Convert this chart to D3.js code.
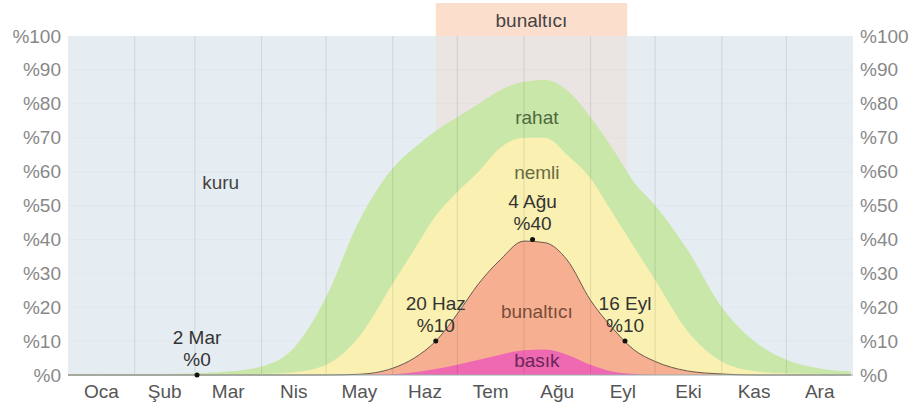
<!DOCTYPE html>
<html>
<head>
<meta charset="utf-8">
<script src="https://cdn.jsdelivr.net/npm/d3@7"></script>
<style>
    body { margin: 0; background: #fff; font-family: "Liberation Sans", Arial, sans-serif; }
    #chart { width: 913px; height: 410px; }
</style>
</head>
<body>
<div id="chart"></div>
<script>
// day of year (0 = 1 Oca) for each sample
const days = [0, 15, 31, 45, 59, 74, 90, 105, 120, 135, 151, 161, 171, 181, 191, 201, 212, 222, 232, 243, 253, 263, 273, 288, 304, 319, 334, 349, 364];

// cumulative tops of each band, in percent
const rahatTop =     [0.3, 0.3, 0.3, 0.3, 0.5, 1, 2.5, 8, 23, 45, 61, 67, 72, 76, 80, 84, 86.5, 87, 84, 76, 67, 57, 50, 37, 20, 10, 4.5, 2, 1];
const nemliTop =     [0.3, 0.3, 0.3, 0.3, 0.3, 0.3, 0.3, 0.8, 3, 11, 27, 37, 47, 54, 60, 67, 70, 70, 65, 58, 48, 38, 28, 13, 4, 1.2, 0.5, 0.3, 0.3];
const bunalticiTop = [0, 0, 0, 0, 0, 0, 0, 0, 0, 0.2, 2, 5, 10, 18, 27, 34, 39.5, 39, 34, 22, 14, 7.5, 4, 1.2, 0.3, 0, 0, 0, 0];
const basikTop =     [0, 0, 0, 0, 0, 0, 0, 0, 0, 0, 0.2, 0.8, 1.8, 3, 4.5, 6, 7.3, 7.5, 6, 3, 1, 0.3, 0, 0, 0, 0, 0, 0, 0];

const monthNames = ["Oca", "Şub", "Mar", "Nis", "May", "Haz", "Tem", "Ağu", "Eyl", "Eki", "Kas", "Ara"];
const monthStarts = [0, 31, 59, 90, 120, 151, 181, 212, 243, 273, 304, 334, 365];
const yTicks = [0, 10, 20, 30, 40, 50, 60, 70, 80, 90, 100];

// muggy period band on top
const muggyStart = 171;
const muggyEnd = 260;

// marked points on the bunaltici line
const markDays = [60, 171, 216, 259];
const markValues = [0, 10, 40, 10];
const markDates = ["2 Mar", "20 Haz", "4 Ağu", "16 Eyl"];

// band names and where they sit
const bandNames = ["kuru", "rahat", "nemli", "bunaltıcı", "basık"];
const bandLabelDays = [71, 218, 218, 218, 218];
const bandLabelValues = [57, 76, 60, 19, 4.5];

class HumidityChart {
    constructor(parentElement) {
        this.parentElement = parentElement;
        this.initVis();
    }

    initVis() {
        let vis = this;
        vis.margin = {top: 36, right: 60, bottom: 35, left: 68};
        vis.width = 913 - vis.margin.left - vis.margin.right;
        vis.height = 410 - vis.margin.top - vis.margin.bottom;
        vis.fontSize = 19;

        vis.root = d3.select("#" + vis.parentElement).append("svg")
            .attr("width", 913)
            .attr("height", 410);
        vis.svg = vis.root.append("g")
            .attr("transform", `translate(${vis.margin.left}, ${vis.margin.top})`);

        vis.x = d3.scaleLinear().domain([0, 365]).range([0, vis.width]);
        vis.y = d3.scaleLinear().domain([0, 100]).range([vis.height, 0]);

        vis.updateVis();
    }

    updateVis() {
        let vis = this;
        let x = vis.x, y = vis.y;

        // kuru background
        vis.svg.append("rect")
            .attr("width", vis.width)
            .attr("height", vis.height)
            .attr("fill", "#e6edf2");

        // muggy season band (above plot + faint tint inside)
        vis.root.append("rect")
            .attr("x", vis.margin.left + x(muggyStart))
            .attr("y", 3)
            .attr("width", x(muggyEnd) - x(muggyStart))
            .attr("height", vis.margin.top - 3)
            .attr("fill", "#fcdecd");
        vis.root.append("text")
            .attr("x", vis.margin.left + x((muggyStart + muggyEnd) / 2))
            .attr("y", 27)
            .attr("text-anchor", "middle")
            .attr("font-size", vis.fontSize)
            .attr("fill", "#444")
            .text("bunaltıcı");
        vis.svg.append("rect")
            .attr("x", x(muggyStart))
            .attr("width", x(muggyEnd) - x(muggyStart))
            .attr("height", vis.height)
            .attr("fill", "#f6d2c0")
            .attr("opacity", 0.3);

        // faint horizontal grid
        vis.svg.selectAll(".hgrid")
            .data(yTicks.slice(1, -1))
            .enter()
            .append("line")
            .attr("x1", 0).attr("x2", vis.width)
            .attr("y1", d => y(d)).attr("y2", d => y(d))
            .attr("stroke", "#000")
            .attr("stroke-opacity", 0.025);

        let area = vals => d3.area()
            .x((d, i) => x(days[i]))
            .y0(y(0))
            .y1((d, i) => y(vals[i]))
            .curve(d3.curveMonotoneX)(days);

        let bands = [
            {vals: rahatTop, color: "#c8e7a8"},
            {vals: nemliTop, color: "#f9f0b2"},
            {vals: bunalticiTop, color: "#f6b091"},
            {vals: basikTop, color: "#ee69b1"}
        ];
        vis.svg.selectAll(".band")
            .data(bands)
            .enter()
            .append("path")
            .attr("class", "band")
            .attr("d", d => area(d.vals))
            .attr("fill", d => d.color);

        // month boundary lines
        vis.svg.selectAll(".vgrid")
            .data(monthStarts.slice(1, -1))
            .enter()
            .append("line")
            .attr("x1", d => x(d)).attr("x2", d => x(d))
            .attr("y1", 0).attr("y2", vis.height)
            .attr("stroke", "#000")
            .attr("stroke-opacity", 0.1);

        // bunaltici line
        vis.svg.append("path")
            .attr("d", d3.line()
                .x((d, i) => x(days[i]))
                .y((d, i) => y(bunalticiTop[i]))
                .curve(d3.curveMonotoneX)(days))
            .attr("fill", "none")
            .attr("stroke", "#6a5a4c")
            .attr("stroke-width", 1);

        // axis baseline
        vis.svg.append("line")
            .attr("x1", 0).attr("x2", vis.width)
            .attr("y1", vis.height).attr("y2", vis.height)
            .attr("stroke", "#9aa")
            .attr("stroke-width", 1);

        // y labels, both sides
        let yAxisL = d3.axisLeft(y).tickValues(yTicks).tickSize(0).tickPadding(7).tickFormat(d => "%" + d);
        let yAxisR = d3.axisRight(y).tickValues(yTicks).tickSize(0).tickPadding(7).tickFormat(d => "%" + d);
        vis.svg.append("g").call(yAxisL);
        vis.svg.append("g").attr("transform", `translate(${vis.width},0)`).call(yAxisR);
        vis.svg.selectAll(".tick text")
            .attr("font-size", vis.fontSize)
            .attr("font-family", "Liberation Sans, Arial, sans-serif")
            .attr("fill", "#888");
        vis.svg.selectAll(".domain").remove();

        // month labels
        vis.svg.selectAll(".month")
            .data(monthNames)
            .enter()
            .append("text")
            .attr("x", (d, i) => x((monthStarts[i] + monthStarts[i + 1]) / 2))
            .attr("y", vis.height + 23)
            .attr("text-anchor", "middle")
            .attr("font-size", vis.fontSize)
            .attr("fill", "#555")
            .text(d => d);

        // band labels
        let bandColors = ["#444", "#50683f", "#6a6a42", "#7a4c3c", "#6a2656"];
        vis.svg.selectAll(".bandlabel")
            .data(bandNames)
            .enter()
            .append("text")
            .attr("x", (d, i) => x(bandLabelDays[i]))
            .attr("y", (d, i) => y(bandLabelValues[i]) + 7)
            .attr("text-anchor", "middle")
            .attr("font-size", vis.fontSize)
            .attr("fill", (d, i) => bandColors[i])
            .text(d => d);

        // marked points
        let marks = vis.svg.selectAll(".mark")
            .data(markDays)
            .enter()
            .append("g");
        marks.append("circle")
            .attr("cx", d => x(d))
            .attr("cy", (d, i) => y(markValues[i]))
            .attr("r", 2.5)
            .attr("fill", "#111");
        marks.append("text")
            .attr("x", d => x(d))
            .attr("y", (d, i) => y(markValues[i]) - 31)
            .attr("text-anchor", "middle")
            .attr("font-size", vis.fontSize)
            .attr("fill", "#333")
            .text((d, i) => markDates[i]);
        marks.append("text")
            .attr("x", d => x(d))
            .attr("y", (d, i) => y(markValues[i]) - 9)
            .attr("text-anchor", "middle")
            .attr("font-size", vis.fontSize)
            .attr("fill", "#333")
            .text((d, i) => "%" + markValues[i]);
    }
}

new HumidityChart("chart");
</script>
</body>
</html>
